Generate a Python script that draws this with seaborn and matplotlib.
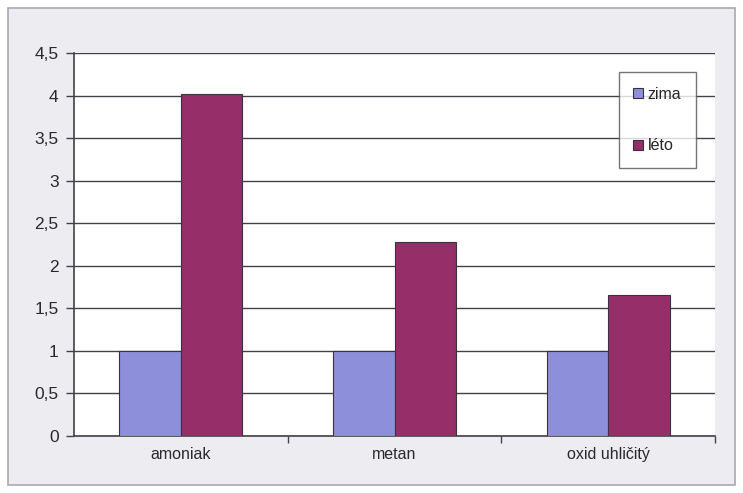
import matplotlib
matplotlib.use('Agg')
import matplotlib.pyplot as plt
import pandas as pd
import seaborn as sns
from matplotlib.patches import Rectangle
from matplotlib.ticker import FuncFormatter

# Data
latky = ['amoniak', 'metan', 'oxid uhličitý']
zima = [1.0, 1.0, 1.0]
leto = [4.02, 2.28, 1.66]
obdobi = ['zima', 'léto']
barvy = ['#8e8fdb', '#962f69']

df = pd.DataFrame({
    'latka': latky * 2,
    'obdobi': ['zima'] * 3 + ['léto'] * 3,
    'hodnota': zima + leto,
})

sns.set_style('white')
plt.rcParams['font.family'] = ['Liberation Sans', 'DejaVu Sans']

fig = plt.figure(figsize=(7.43, 4.93), dpi=100)
fig.patch.set_facecolor('white')
# outer chart area (gray panel with border)
fig.patches.append(Rectangle((8 / 743, 8 / 493), 727 / 743, 477 / 493,
                             transform=fig.transFigure, facecolor='#ededf1',
                             edgecolor='#a8a8b0', lw=1.2, zorder=-10))

ax = fig.add_axes([74 / 743, 57 / 493, 641 / 743, 383 / 493])
ax.set_zorder(5)
ax.set_facecolor('white')

sns.barplot(data=df, x='latka', y='hodnota', hue='obdobi', hue_order=obdobi,
            palette=barvy, width=0.575, ax=ax, edgecolor='#3a3040',
            linewidth=0.8, saturation=1, zorder=3)

ax.set_ylim(0, 4.5)
ax.set_yticks([0, 0.5, 1, 1.5, 2, 2.5, 3, 3.5, 4, 4.5])
ax.yaxis.set_major_formatter(FuncFormatter(lambda v, p: f'{v:g}'.replace('.', ',')))
ax.grid(axis='y', color='#444048', lw=1.0, zorder=0)
ax.set_axisbelow(True)

ax.set_xlim(-0.5, 2.5)
ax.set_xticks([0, 1, 2])
ax.set_xticks([0.5, 1.5, 2.5], minor=True)
ax.tick_params(axis='x', which='major', length=0, pad=8, labelsize=11.5, labelcolor='#2a2a2a')
ax.tick_params(axis='x', which='minor', length=5, width=1, color='#444048', direction='out', bottom=True)
ax.tick_params(axis='y', length=6, width=1, color='#444048', direction='out', pad=5,
               labelsize=12.5, labelcolor='#2a2a2a', left=True)

ax.set_xlabel('')
ax.set_ylabel('')
for side in ['left', 'bottom']:
    ax.spines[side].set_color('#444048')
    ax.spines[side].set_linewidth(1.2)
ax.spines['right'].set_visible(False)
ax.spines['top'].set_visible(False)

leg = ax.legend(loc='upper left', bbox_to_anchor=(0.85, 0.95), frameon=True,
                fancybox=False, edgecolor='#555058', fontsize=11.5,
                handlelength=0.6, handleheight=0.6, handletextpad=0.3,
                labelspacing=2.3, borderpad=0.9, borderaxespad=0)
leg.get_frame().set_linewidth(1.0)
leg.set_zorder(5)

fig.savefig('out.png', dpi=100, facecolor=fig.get_facecolor())
